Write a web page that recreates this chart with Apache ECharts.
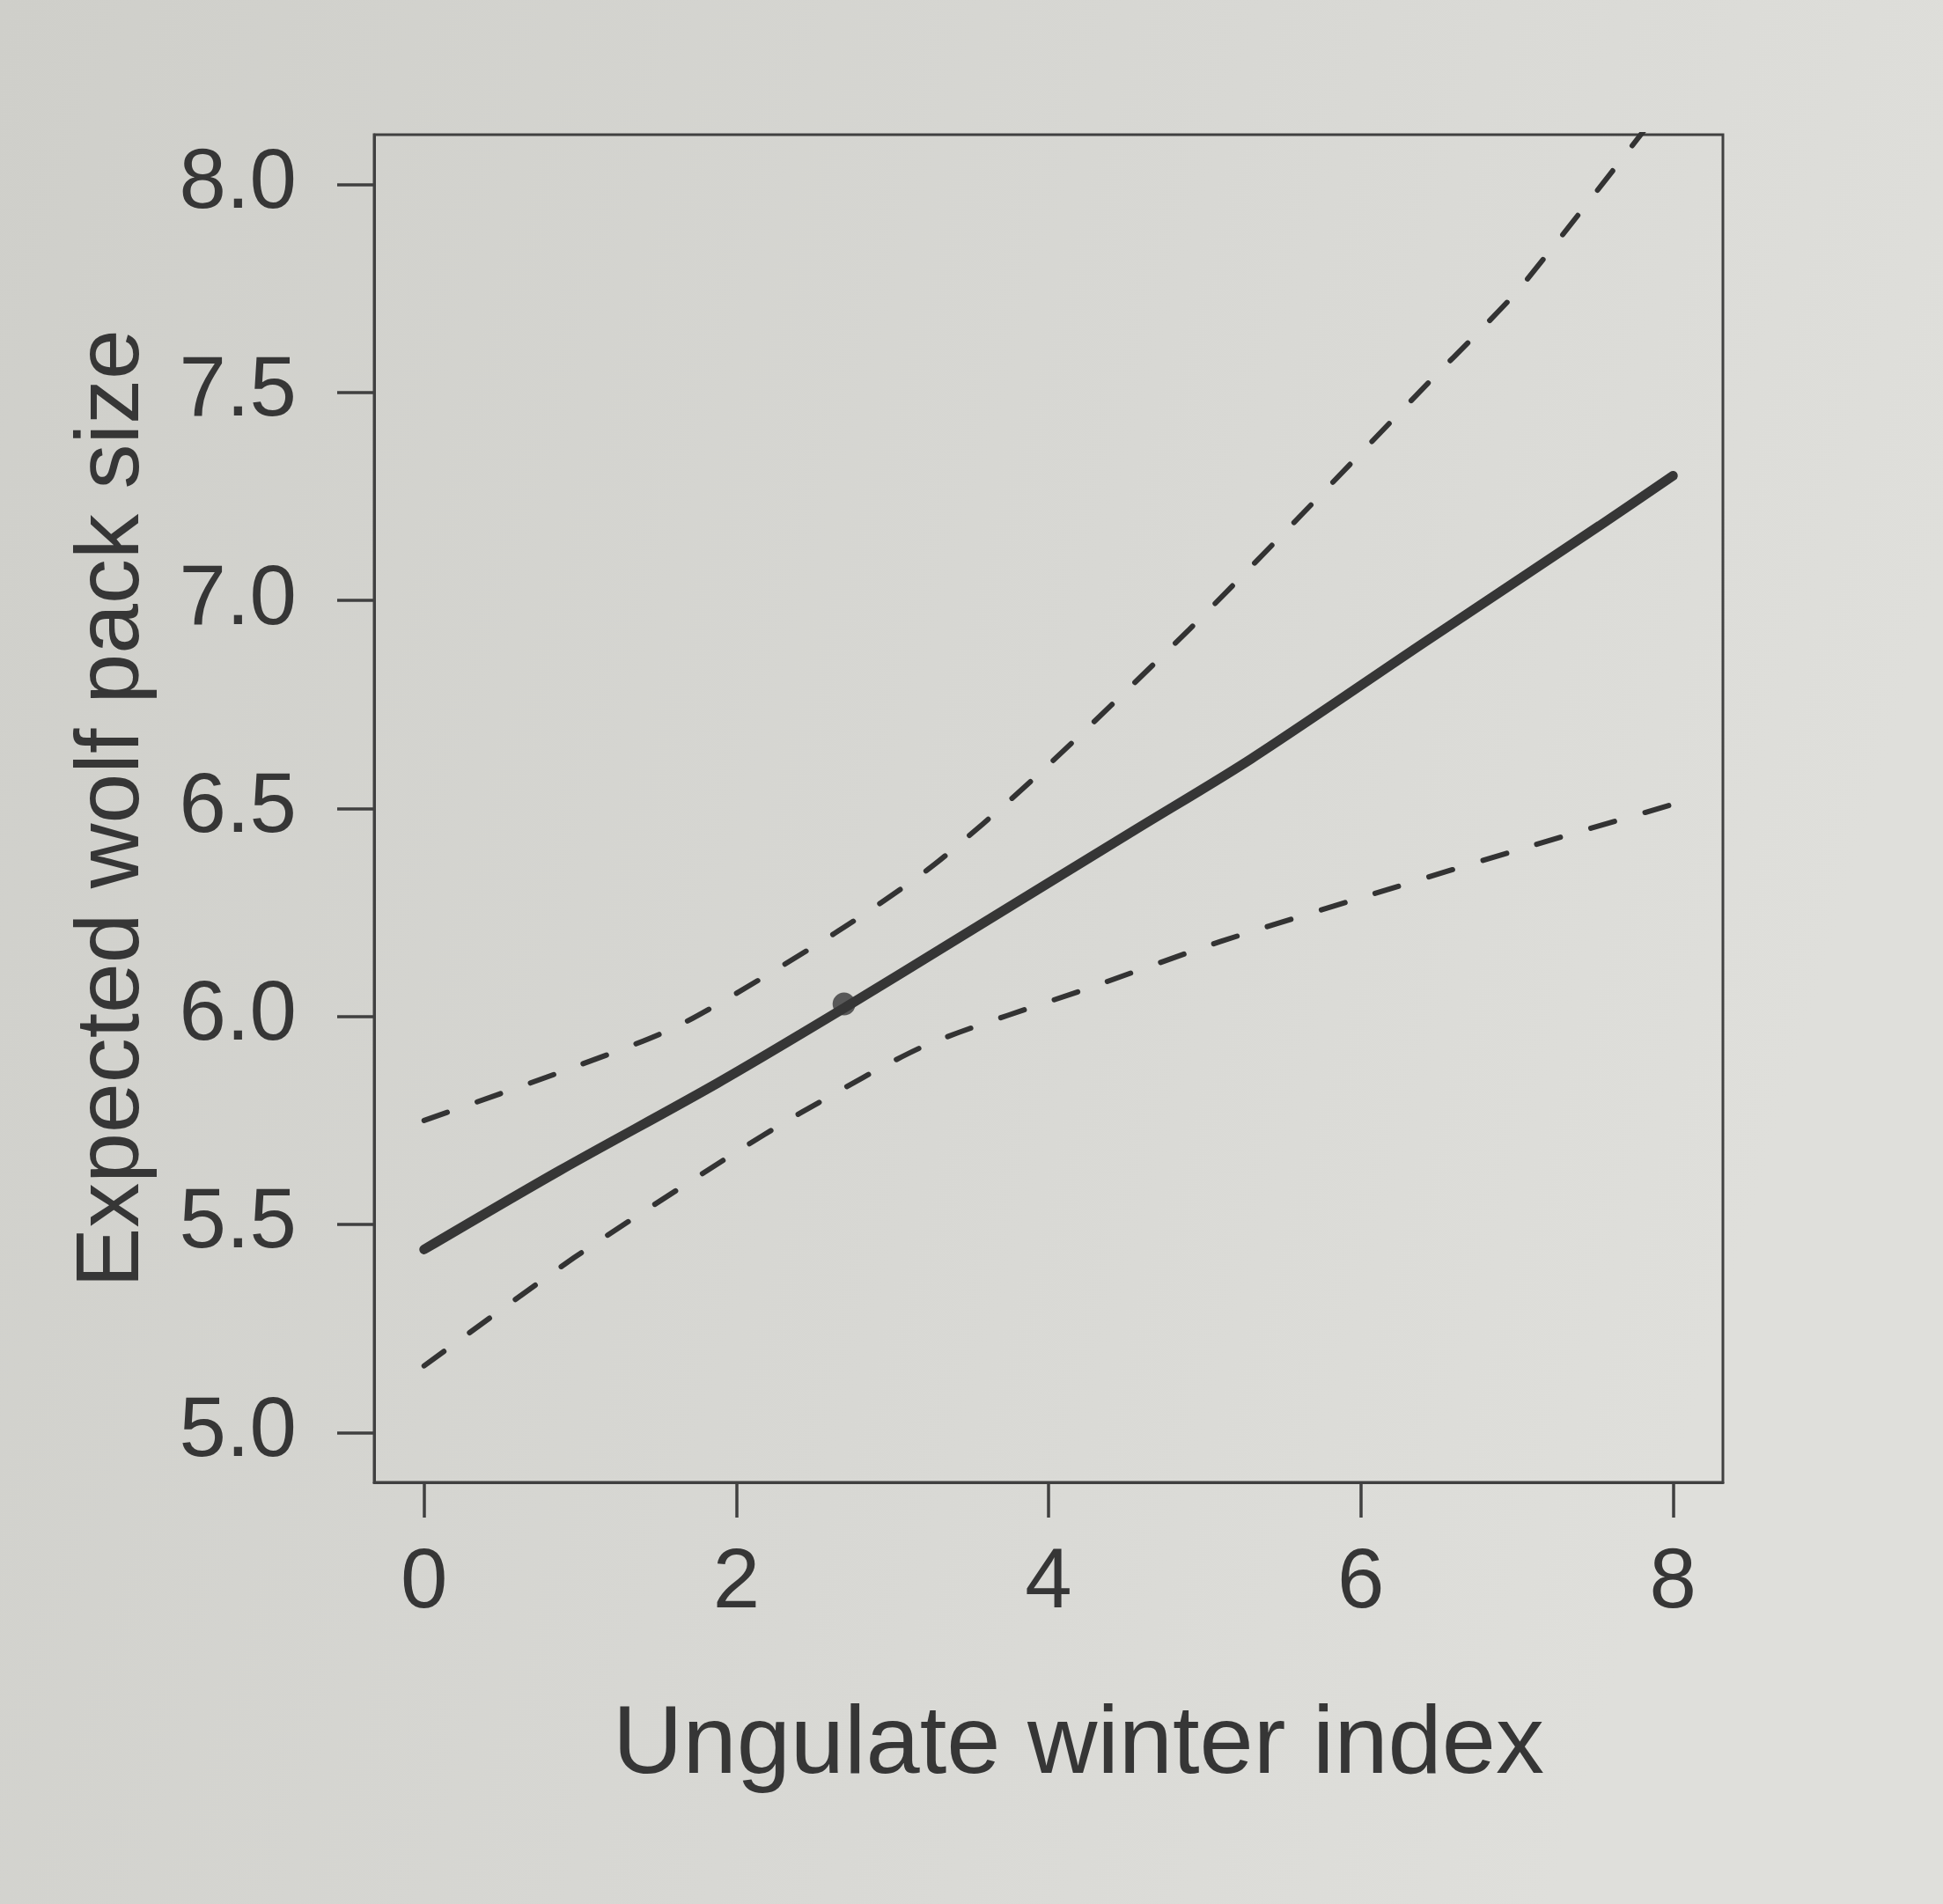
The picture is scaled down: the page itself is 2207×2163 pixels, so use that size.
<!DOCTYPE html>
<html>
<head>
<meta charset="utf-8">
<script src="https://cdn.jsdelivr.net/npm/echarts@6/dist/echarts.min.js"></script>
<style>
html,body{margin:0;padding:0;background:#d6d6d1;}
#chart{width:2207px;height:2163px;}
</style>
</head>
<body>
<div id="chart"></div>
<script>
// Tick labels
const xTicks = [0, 2, 4, 6, 8];
const yTicks = [5.0, 5.5, 6.0, 6.5, 7.0, 7.5, 8.0];

// Fitted expected pack size (solid line)
const fitX = [0, 0.87, 1.88, 2.69, 3.43, 4.56, 5.30, 6.41, 7.53, 8.0];
const fitY = [5.44, 5.63, 5.84, 6.02, 6.19, 6.45, 6.62, 6.90, 7.18, 7.30];

// Upper confidence limit (dashed)
const upperX = [0, 0.90, 1.64, 2.63, 3.25, 3.90, 4.90, 5.63, 6.45, 6.74, 7.04, 8.0];
const upperY = [5.75, 5.87, 5.98, 6.20, 6.36, 6.57, 6.93, 7.21, 7.53, 7.64, 7.76, 8.22];

// Lower confidence limit (dashed)
const lowerX = [0, 0.96, 1.94, 2.42, 3.21, 4.27, 5.10, 6.04, 7.09, 8.0];
const lowerY = [5.16, 5.42, 5.66, 5.77, 5.93, 6.07, 6.18, 6.29, 6.41, 6.51];

// Hand-drawn pen dot on the fitted line
const markX = [2.69];
const markY = [6.03];

const zip = (xs, ys) => xs.map((x, i) => [x, ys[i]]);

const ink = '#363636';
const font = '"Liberation Sans", Arial, Helvetica, sans-serif';

const chart = echarts.init(document.getElementById('chart'), null, {renderer: 'canvas'});
chart.setOption({
  backgroundColor: {
    type: 'linear', x: 0, y: 0, x2: 1, y2: 0.3,
    colorStops: [
      {offset: 0, color: '#cfcfca'},
      {offset: 0.6, color: '#d8d8d4'},
      {offset: 1, color: '#dfdfdb'}
    ]
  },
  animation: false,
  grid: {
    left: 425, top: 153, width: 1532, height: 1531,
    show: true, borderColor: '#404040', borderWidth: 3,
    backgroundColor: 'transparent',
    containLabel: false
  },
  xAxis: {
    type: 'value',
    min: -0.32, max: 8.32,
    name: 'Ungulate winter index',
    nameLocation: 'middle',
    nameGap: 245,
    nameTextStyle: {fontSize: 110, color: ink, fontFamily: font, padding: [0, 0, 0, 68]},
    splitLine: {show: false},
    axisLine: {show: true, onZero: false, lineStyle: {color: '#404040', width: 3}},
    axisTick: {show: true, length: 40, inside: false, customValues: xTicks,
               lineStyle: {color: '#404040', width: 3.5}},
    axisLabel: {show: true, customValues: xTicks, fontSize: 96, color: ink,
                fontFamily: font, margin: 68,
                formatter: v => String(v)}
  },
  yAxis: {
    type: 'value',
    min: 4.88, max: 8.12,
    name: 'Expected wolf pack size',
    nameLocation: 'middle',
    nameGap: 245,
    nameRotate: 90,
    nameTextStyle: {fontSize: 102, color: ink, fontFamily: font},
    splitLine: {show: false},
    axisLine: {show: true, onZero: false, lineStyle: {color: '#404040', width: 3}},
    axisTick: {show: true, length: 42, inside: false, customValues: yTicks,
               lineStyle: {color: '#404040', width: 3.5}},
    axisLabel: {show: true, customValues: yTicks, fontSize: 96, color: ink,
                fontFamily: font, margin: 88,
                formatter: v => Number(v).toFixed(1)}
  },
  series: [
    {
      name: 'upper', type: 'line', data: zip(upperX, upperY),
      showSymbol: false, smooth: 0.25, clip: true,
      lineStyle: {color: '#333333', width: 6, type: [28, 36], cap: 'round'}
    },
    {
      name: 'lower', type: 'line', data: zip(lowerX, lowerY),
      showSymbol: false, smooth: 0.25, clip: true,
      lineStyle: {color: '#333333', width: 6, type: [28, 36], cap: 'round'}
    },
    {
      name: 'fit', type: 'line', data: zip(fitX, fitY),
      showSymbol: false, smooth: 0.3, clip: true,
      lineStyle: {color: '#363636', width: 11, cap: 'round'}
    },
    {
      name: 'mark', type: 'scatter', data: zip(markX, markY),
      symbol: 'circle', symbolSize: 26,
      itemStyle: {color: '#4a4a4a', opacity: 0.9}
    }
  ]
});
</script>
</body>
</html>
